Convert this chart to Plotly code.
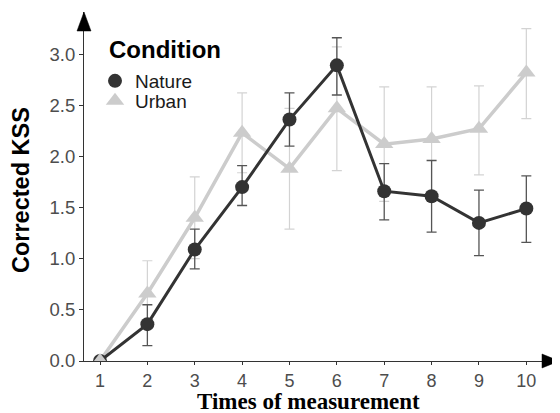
import plotly.graph_objects as go

times = [1, 2, 3, 4, 5, 6, 7, 8, 9, 10]
nature_mean = [0.00, 0.36, 1.09, 1.70, 2.36, 2.89, 1.66, 1.61, 1.35, 1.49]
nature_upper = [0.00, 0.55, 1.29, 1.91, 2.62, 3.16, 1.93, 1.96, 1.67, 1.81]
nature_lower = [0.00, 0.15, 0.90, 1.52, 2.10, 2.60, 1.38, 1.26, 1.03, 1.16]
urban_mean = [0.00, 0.66, 1.40, 2.23, 1.88, 2.47, 2.12, 2.17, 2.27, 2.82]
urban_upper = [0.00, 0.98, 1.80, 2.62, 2.47, 3.07, 2.68, 2.68, 2.69, 3.25]
urban_lower = [0.00, 0.34, 1.00, 1.84, 1.29, 1.86, 1.56, 1.66, 1.82, 2.37]
yticks = [0.0, 0.5, 1.0, 1.5, 2.0, 2.5, 3.0]

NAT = "#333333"
URB = "#cccccc"
NAT_EB = "#555555"
URB_EB = "#d3d3d3"

# page body has an 8px margin: lay the figure out in a 552x405 box
OFF = 8
L, R, T, B = 76, 17, 4, 52
W, H = 552, 405
pw, ph = W - L - R, H - T - B
px_per_x = 47.37
px_per_y = 102.3
x0 = 1 - 16 / px_per_x
x1 = x0 + pw / px_per_x
y1 = ph / px_per_y


def pxx(px):
    return (px - OFF - L) / pw


def pxy(py):
    return (H - B - (py - OFF)) / ph


fig = go.Figure()


def err(mean, up, lo):
    return [u - m for u, m in zip(up, mean)], [m - l for m, l in zip(mean, lo)]


for mean, up, lo, col, th in [(urban_mean, urban_upper, urban_lower, URB_EB, 1.2),
                              (nature_mean, nature_upper, nature_lower, NAT_EB, 1.3)]:
    a, am = err(mean, up, lo)
    fig.add_trace(go.Scatter(x=times, y=mean, mode="markers",
                             marker=dict(size=1, opacity=0),
                             error_y=dict(type="data", array=a, arrayminus=am,
                                          color=col, thickness=th, width=5),
                             showlegend=False, hoverinfo="skip"))

fig.add_trace(go.Scatter(x=times, y=urban_mean, mode="lines",
                         line=dict(color=URB, width=3.5), showlegend=False))
fig.add_trace(go.Scatter(x=times, y=nature_mean, mode="lines",
                         line=dict(color=NAT, width=3), showlegend=False))
fig.add_trace(go.Scatter(x=times, y=nature_mean, mode="markers", name="Nature",
                         marker=dict(color=NAT, size=14, symbol="circle"),
                         legend="legend"))
fig.add_trace(go.Scatter(x=times, y=urban_mean, mode="markers", name="Urban",
                         marker=dict(color=URB, size=16, symbol="triangle-up"),
                         legend="legend2"))

shapes = [
    dict(type="path", xref="paper", yref="paper",
         path=f"M {pxx(77)} {pxy(31)} L {pxx(84)} {pxy(12)} L {pxx(91)} {pxy(31)} Z",
         fillcolor="black", line=dict(color="black", width=0.5)),
    dict(type="path", xref="paper", yref="paper",
         path=f"M {pxx(542)} {pxy(354)} L {pxx(559)} {pxy(361)} L {pxx(542)} {pxy(368)} Z",
         fillcolor="black", line=dict(color="black", width=0.5)),
]

leg_common = dict(font=dict(size=19, color="#1a1a1a"), xanchor="left",
                  yanchor="middle", bgcolor="rgba(0,0,0,0)", itemwidth=30)

fig.update_layout(
    width=W, height=H,
    margin=dict(l=L, r=R, t=T, b=B),
    paper_bgcolor="white", plot_bgcolor="white",
    font=dict(family="Liberation Sans, Arial, sans-serif"),
    shapes=shapes,
    legend=dict(x=pxx(95), y=pxy(81), **leg_common),
    legend2=dict(x=pxx(95), y=pxy(101), **leg_common),
    annotations=[
        dict(text="<b>Condition</b>", xref="paper", yref="paper",
             x=pxx(107), y=pxy(49), showarrow=False,
             font=dict(size=24, color="black", family="Liberation Sans, Arial"),
             xanchor="left", yanchor="middle"),
        dict(text="<b>Corrected KSS</b>", xref="paper", yref="paper",
             x=pxx(21), y=pxy(190), textangle=-90, showarrow=False,
             font=dict(size=23.5, color="black", family="Liberation Sans, Arial"),
             xanchor="center", yanchor="middle"),
        dict(text="<b>Times of measurement</b>", xref="paper", yref="paper",
             x=pxx(308), y=pxy(401), showarrow=False,
             font=dict(size=23, color="black", family="Liberation Serif, Times New Roman"),
             xanchor="center", yanchor="middle"),
    ],
)

fig.update_xaxes(range=[x0, x1], tickvals=times, ticktext=[str(t) for t in times],
                 showgrid=False, zeroline=False, showline=True, linecolor="#333333",
                 linewidth=1.2, ticks="outside", ticklen=3, tickcolor="#333333",
                 tickfont=dict(size=18, color="#4d4d4d"))
fig.update_yaxes(range=[0, y1], tickvals=yticks, ticktext=[f"{v:.1f}" for v in yticks],
                 showgrid=False, zeroline=False, showline=True, linecolor="#333333",
                 linewidth=1.2, ticks="outside", ticklen=4, tickcolor="#333333",
                 tickfont=dict(size=18.5, color="#4d4d4d"))

fig.write_html("out.html")
